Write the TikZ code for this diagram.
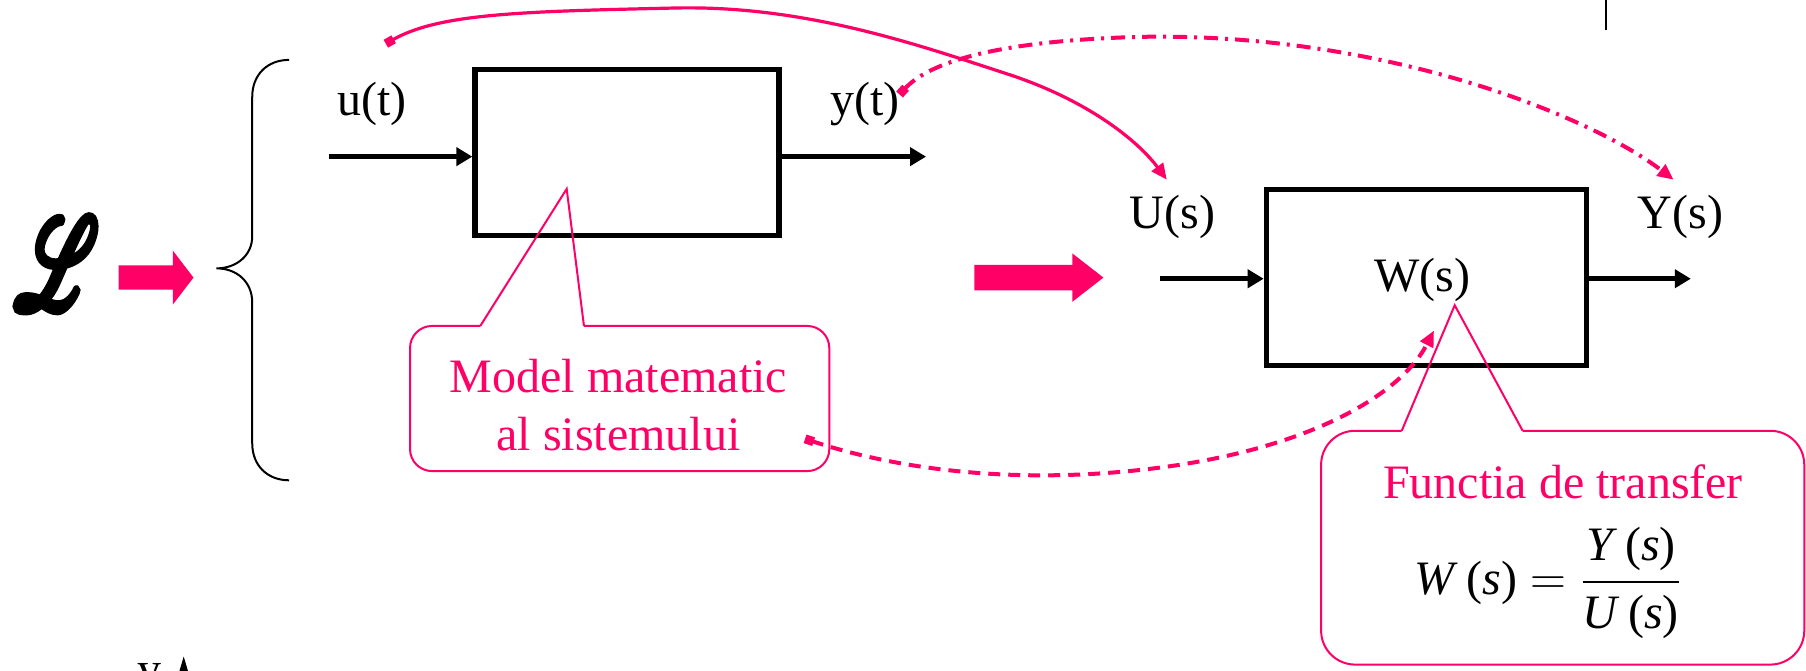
\documentclass[tikz,border=0pt]{standalone}
\usepackage{amsmath}
\usepackage{mathrsfs}
\usepackage{fontspec}
\setmainfont{Liberation Serif}
\usetikzlibrary{arrows.meta, positioning, calc}
\definecolor{cpink}{HTML}{FF0066}
\definecolor{cblack}{HTML}{000000}
\tikzset{
  every picture/.style={x=0.5759pt, y=-0.5759pt, line width=1pt},
  blk/.style={draw=cblack, line width=2.8pt, inner sep=0pt},
  sig/.style={-{Triangle[length=8pt, width=9pt]}, draw=cblack, line width=2.4pt},
  lbl/.style={font=\fontsize{24}{29}\selectfont, inner sep=0pt},
  link/.style={{Square[length=4.5pt, width=4.5pt]}-{Triangle[length=8pt, width=7pt]}, draw=cpink, line width=1.6pt},
  bubble/.style={draw=cpink, line width=1pt},
}

\begin{document}
\begin{tikzpicture}[
    note/.style={lbl, text=cpink, align=center},
  ]
  \newcommand{\pinkarrow}[6]{\fill[cpink] (#1,{#4-#5}) -- (#2,{#4-#5}) -- (#2,{#4-#6}) -- (#3,#4) -- (#2,{#4+#6}) -- (#2,{#4+#5}) -- (#1,{#4+#5}) -- cycle;}
  \useasboundingbox (0,0) rectangle (1568,582);
  \clip (0,0) rectangle (1568,582);

  % ---- time domain
  \node[lbl] (lap) at (49,229) {\resizebox*{42pt}{45pt}{\special{pdf:literal direct 2 Tr 1.7 w}$\mathscr{L}$\special{pdf:literal direct 0 Tr}}};
  \pinkarrow{103}{150}{168}{241}{10.5}{23.5}
  \draw (251,52) .. controls (232,52) and (219,65) .. (219,84) -- (219,205)
    .. controls (219,222) and (205,233) .. (188,233)
    .. controls (205,233) and (219,244) .. (219,263) -- (219,385)
    .. controls (219,404) and (232,417) .. (251,417);
  \node[blk, minimum width=152pt, minimum height=83pt] (sys) at (544.5,132.5) {};
  \coordinate (uin) at (286,136);
  \coordinate (yout) at (804,136);
  \draw[sig] (uin) -- (uin -| sys.west);
  \draw[sig] (yout -| sys.east) -- (yout);
  \node[lbl, anchor=base] (ut) at (323,100) {u(t)};
  \node[lbl, anchor=base] (yt) at (751,100) {y(t)};

  % ---- s domain
  \pinkarrow{846}{931}{958}{241}{11}{21}
  \node[blk, minimum width=160pt, minimum height=88pt] (tf) at (1238.5,241) {};
  \node[lbl, anchor=base] (ws) at (1235,253) {W(s)};
  \coordinate (uin2) at (1007,242);
  \coordinate (yout2) at (1468,242);
  \draw[sig] (uin2) -- (uin2 -| tf.west);
  \draw[sig] (yout2 -| tf.east) -- (yout2);
  \node[lbl, anchor=base] (us) at (1018,198) {U(s)};
  \node[lbl, anchor=base] (ys) at (1459,198) {Y(s)};

  % ---- callouts
  \coordinate (m-nw) at (356,283);
  \coordinate (m-se) at (720,409);
  \coordinate (m-a) at (417,283);
  \coordinate (m-b) at (507,283);
  \coordinate (m-tip) at (492,164);
  \draw[bubble, rounded corners=11pt] (m-b) -| (m-se) -| (m-nw) -- (m-a);
  \draw[bubble] (m-a) -- (m-tip) -- (m-b);
  \node[note] (mtxt) at (537,352) {Model matematic\\al sistemului};

  \coordinate (f-nw) at (1147,374);
  \coordinate (f-se) at (1566.5,577);
  \coordinate (f-a) at (1217,374);
  \coordinate (f-b) at (1322,374);
  \coordinate (f-tip) at (1263,265);
  \draw[bubble, rounded corners=17pt] (f-b) -| (f-se) -| (f-nw) -- (f-a);
  \draw[bubble] (f-a) -- (f-tip) -- (f-b);
  \node[note, anchor=base] (ftxt) at (1357,433) {Functia de transfer};
  \node[lbl] (wfrm) at (1344,506) {$\text{\textit{W}\,(\textit{s})}=\dfrac{\text{\textit{Y}\,(\textit{s})}}{\text{\textit{U}\,(\textit{s})}}$};

  % ---- pink links
  \coordinate (ut-tail) at (335,38);
  \coordinate (us-head) at (1013,156);
  \coordinate (yt-tail) at (781,82);
  \coordinate (ys-head) at (1453,156);
  \coordinate (m-tail) at (699,381);
  \coordinate (ws-head) at (1245,287);
  \draw[link] (ut-tail) .. controls (380,12) and (450,10) .. (584,7)
    .. controls (700,4) and (800,40) .. (880,66)
    .. controls (950,90) and (990,125) .. (us-head);
  \draw[link, line width=2pt, dash pattern=on 7pt off 3.5pt on 1.5pt off 3.5pt] (yt-tail)
    .. controls (810,50) and (880,35) .. (990,32)
    .. controls (1200,28) and (1380,100) .. (ys-head);
  \draw[link, line width=2pt, dash pattern=on 6pt off 4pt] (m-tail)
    .. controls (780,408) and (880,420) .. (990,408)
    .. controls (1130,393) and (1215,345) .. (ws-head);

  % ---- cut edges of the page
  \draw (1394,0) -- (1394,26);
  \node[lbl, anchor=north] (yax) at (130,575) {y};
  \fill (159.5,570) -- (166,592) -- (153,592) -- cycle;
\end{tikzpicture}
\end{document}
